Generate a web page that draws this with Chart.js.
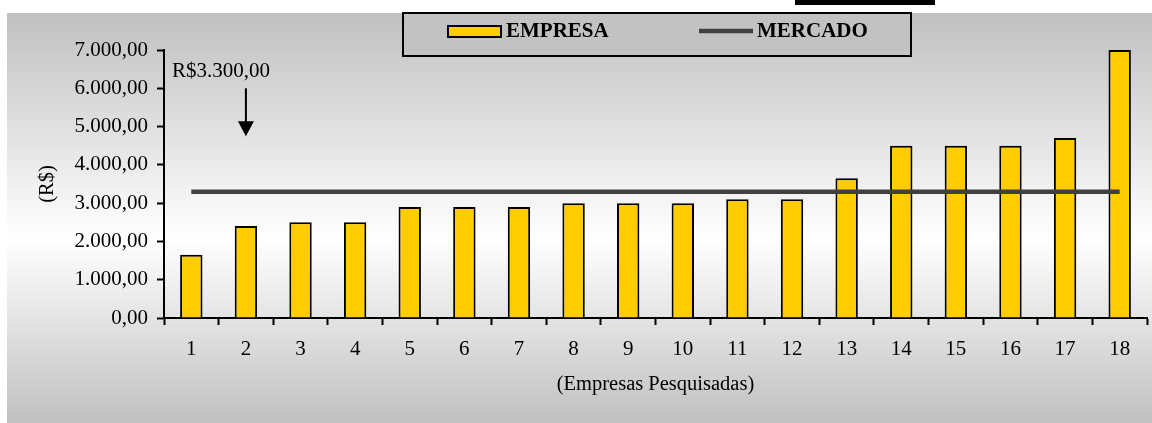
<!DOCTYPE html>
<html>
<head>
<meta charset="utf-8">
<script src="https://cdn.jsdelivr.net/npm/chart.js@4.4.1/dist/chart.umd.min.js"></script>
<style>
  html, body { margin: 0; padding: 0; background: #fff; }
  #wrap { width: 1152px; height: 423px; }
</style>
</head>
<body>
<div id="wrap"><canvas id="grafico"></canvas></div>
<script>
// dados da pesquisa
var categorias = ['1', '2', '3', '4', '5', '6', '7', '8', '9', '10', '11', '12', '13', '14', '15', '16', '17', '18'];
var empresa = [1650, 2400, 2500, 2500, 2900, 2900, 2900, 3000, 3000, 3000, 3100, 3100, 3650, 4500, 4500, 4500, 4700, 7000];
var valorMercado = 3300;
var mercado = categorias.map(function () { return valorMercado; });
var eixoY = { min: 0, max: 7000, passo: 1000 };

var fonte = 'Liberation Serif, "Times New Roman", serif';

function moeda(v) {
    var p = Number(v).toFixed(2).split('.');
    return p[0].replace(/\B(?=(\d{3})+(?!\d))/g, '.') + ',' + p[1];
}

// fundo cinza em degradê
var fundo = {
    id: 'fundo',
    beforeDraw: function (chart) {
        var ctx = chart.ctx;
        ctx.save();
        ctx.fillStyle = '#ffffff';
        ctx.fillRect(0, 0, chart.width, chart.height);
        var g = ctx.createLinearGradient(0, 13, 0, chart.height);
        g.addColorStop(0, '#c0c0c0');
        g.addColorStop(0.55, '#ffffff');
        g.addColorStop(1, '#c0c0c0');
        ctx.fillStyle = g;
        ctx.fillRect(7, 13, chart.width - 7, chart.height - 13);
        ctx.fillStyle = '#000';
        ctx.fillRect(795, 0, 140, 5);
        ctx.restore();
    }
};

// legenda com moldura e seta do valor de mercado
var extras = {
    id: 'extras',
    afterDraw: function (chart) {
        var ctx = chart.ctx;
        var ds = chart.data.datasets;
        ctx.save();

        // moldura da legenda
        ctx.fillStyle = '#c2c2c2';
        ctx.fillRect(403, 13, 508, 43);
        ctx.strokeStyle = '#000';
        ctx.lineWidth = 2;
        ctx.strokeRect(403, 13, 508, 43);

        ctx.font = 'bold 21px ' + fonte;
        ctx.textBaseline = 'middle';
        ctx.fillStyle = '#000';

        // EMPRESA
        ctx.fillStyle = ds[1].backgroundColor;
        ctx.fillRect(448, 26, 53, 11);
        ctx.strokeStyle = '#000';
        ctx.strokeRect(448, 26, 53, 11);
        ctx.fillStyle = '#000';
        ctx.fillText(ds[1].label, 506, 32);

        // MERCADO
        ctx.strokeStyle = ds[0].borderColor;
        ctx.lineWidth = 4.5;
        ctx.beginPath();
        ctx.moveTo(699, 31);
        ctx.lineTo(753, 31);
        ctx.stroke();
        ctx.fillText(ds[0].label, 757, 32);

        // anotação
        var x = chart.scales.x.getPixelForValue(1);
        var y = chart.scales.y;
        ctx.font = '21px ' + fonte;
        ctx.textAlign = 'center';
        ctx.fillText('R$' + moeda(valorMercado), x - 25, y.getPixelForValue(6430));
        var y0 = y.getPixelForValue(6000);
        var y1 = y.getPixelForValue(4750);
        ctx.strokeStyle = '#000';
        ctx.lineWidth = 2;
        ctx.beginPath();
        ctx.moveTo(x, y0);
        ctx.lineTo(x, y1 - 12);
        ctx.stroke();
        ctx.beginPath();
        ctx.moveTo(x - 8, y1 - 15);
        ctx.lineTo(x + 8, y1 - 15);
        ctx.lineTo(x, y1);
        ctx.closePath();
        ctx.fill();

        ctx.restore();
    }
};

var ctx = document.getElementById('grafico').getContext('2d');
var grafico = new Chart(ctx, {
    data: {
        labels: categorias,
        datasets: [{
            type: 'line',
            label: 'MERCADO',
            data: mercado,
            borderColor: '#404040',
            borderWidth: 4.5,
            pointRadius: 0,
            fill: false,
            order: 1
        }, {
            type: 'bar',
            label: 'EMPRESA',
            data: empresa,
            backgroundColor: '#ffcc00',
            borderColor: '#000000',
            borderWidth: 2,
            barPercentage: 0.41,
            categoryPercentage: 1,
            order: 2
        }]
    },
    options: {
        responsive: true,
        maintainAspectRatio: false,
        animation: false,
        events: [],
        layout: { padding: { top: 50, right: 5, left: 0, bottom: 0 } },
        plugins: {
            legend: { display: false },
            tooltip: { enabled: false }
        },
        scales: {
            x: {
                grid: { offset: true, drawOnChartArea: false, tickLength: 7, tickWidth: 2, tickColor: '#000' },
                border: { color: '#000', width: 2 },
                ticks: { color: '#000', font: { family: fonte, size: 21 }, padding: 12, maxRotation: 0, autoSkip: false },
                title: {
                    display: true,
                    text: '(Empresas Pesquisadas)',
                    color: '#000',
                    font: { family: fonte, size: 20.5 },
                    padding: { top: 0, bottom: 26 }
                },
                afterFit: function (s) { s.height = 105; }
            },
            y: {
                min: eixoY.min,
                max: eixoY.max,
                grid: { drawOnChartArea: false, tickLength: 7, tickWidth: 2, tickColor: '#000' },
                border: { color: '#000', width: 2 },
                ticks: {
                    stepSize: eixoY.passo,
                    color: '#000',
                    font: { family: fonte, size: 21 },
                    padding: 9,
                    callback: function (v) { return moeda(v); }
                },
                title: {
                    display: true,
                    text: '(R$)',
                    color: '#000',
                    font: { family: fonte, size: 20.5 },
                    padding: { top: 35, bottom: 0 }
                },
                afterFit: function (s) { s.width = 164; }
            }
        }
    },
    plugins: [fundo, extras]
});
</script>
</body>
</html>
